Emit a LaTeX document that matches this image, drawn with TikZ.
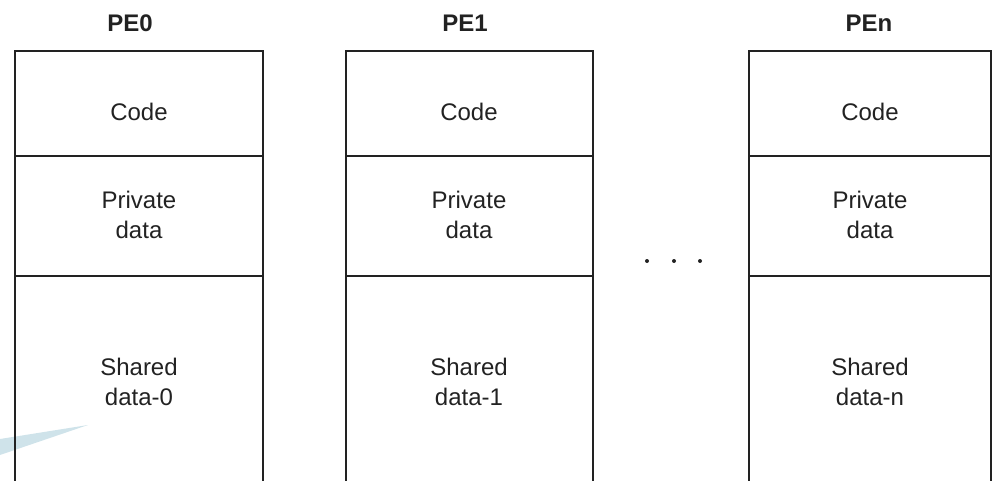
\documentclass[tikz,border=0pt]{standalone}
\usepackage{fontspec}
\setmainfont{Liberation Sans}
\definecolor{ink}{HTML}{222222}
\definecolor{wedge}{HTML}{CFE3EA}
\begin{document}
\begin{tikzpicture}[x=1pt,y=-1pt,
  frame/.style={draw=ink,line width=1.8pt},
  cell/.style={text=ink,font=\fontsize{24}{30}\selectfont,align=center,inner sep=0pt},
  title/.style={text=ink,font=\fontsize{24}{30}\selectfont\bfseries,inner sep=0pt},
  dot/.style={circle,fill=ink,inner sep=0pt,minimum size=4pt}]
\useasboundingbox (0,0) rectangle (992,481);
% wedge artifact
\fill[wedge] (0,439) -- (88,425) -- (0,455) -- cycle;
% PE0
\draw[frame] (15,481) -- (15,51) -- (263,51) -- (263,481);
\draw[frame] (15,156) -- (263,156);
\draw[frame] (15,276) -- (263,276);
% PE1
\draw[frame] (346,481) -- (346,51) -- (593,51) -- (593,481);
\draw[frame] (346,156) -- (593,156);
\draw[frame] (346,276) -- (593,276);
% PEn
\draw[frame] (749,481) -- (749,51) -- (991,51) -- (991,481);
\draw[frame] (749,156) -- (991,156);
\draw[frame] (749,276) -- (991,276);
% titles
\node[title] (t0) at (130,23) {PE0};
\node[title] (t1) at (465,23) {PE1};
\node[title] (tn) at (869,23) {PEn};
% cells
\node[cell] (c0) at (139,112) {Code};
\node[cell] (p0) at (139,215) {Private\\data};
\node[cell] (s0) at (139,382) {Shared\\data-0};
\node[cell] (c1) at (469,112) {Code};
\node[cell] (p1) at (469,215) {Private\\data};
\node[cell] (s1) at (469,382) {Shared\\data-1};
\node[cell] (cn) at (870,112) {Code};
\node[cell] (pn) at (870,215) {Private\\data};
\node[cell] (sn) at (870,382) {Shared\\data-n};
% dots
\node[dot] (d1) at (647,261) {};
\node[dot] (d2) at (674,261) {};
\node[dot] (d3) at (700,261) {};
\end{tikzpicture}
\end{document}
